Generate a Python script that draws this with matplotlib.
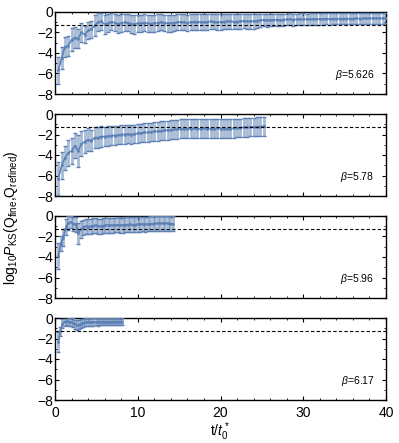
import matplotlib
matplotlib.use("Agg")
import matplotlib.pyplot as plt
from matplotlib.ticker import MultipleLocator
import numpy as np

plt.rcParams['font.family'] = ['Liberation Sans', 'DejaVu Sans']
plt.rcParams['mathtext.fontset'] = 'custom'
plt.rcParams['mathtext.rm'] = 'Liberation Sans'
plt.rcParams['mathtext.it'] = 'Liberation Sans:italic'

betas = ["5.626", "5.78", "5.96", "6.17"]

x1 = [0.4, 0.8, 1.2, 1.6, 2.0, 2.4, 2.8, 3.2, 3.6, 4.0, 4.4, 4.8, 5.2, 5.6, 6.0, 6.4, 6.8, 7.2, 7.6, 8.0,
      8.4, 8.8, 9.2, 9.6, 10.0, 10.4, 10.8, 11.2, 11.6, 12.0, 12.4, 12.8, 13.2, 13.6, 14.0, 14.4, 14.8, 15.2, 15.6, 16.0,
      16.4, 16.8, 17.2, 17.6, 18.0, 18.4, 18.8, 19.2, 19.6, 20.0, 20.4, 20.8, 21.2, 21.6, 22.0, 22.4, 22.8, 23.2, 23.6, 24.0,
      24.4, 24.8, 25.2, 25.6, 26.0, 26.4, 26.8, 27.2, 27.6, 28.0, 28.4, 28.8, 29.2, 29.6, 30.0, 30.4, 30.8, 31.2, 31.6, 32.0,
      32.4, 32.8, 33.2, 33.6, 34.0, 34.4, 34.8, 35.2, 35.6, 36.0, 36.4, 36.8, 37.2, 37.6, 38.0, 38.4, 38.8, 39.2, 39.6, 40.0]
y1 = [-5.7, -4.5, -3.4, -3.3, -2.7, -2.5, -2.6, -2.0, -2.2, -1.8,
      -1.7, -1.3, -1.0, -0.9, -1.2, -1.1, -0.95, -1.05, -1.15, -1.1,
      -1.0, -1.05, -1.15, -1.2, -1.1, -1.1, -1.05, -1.1, -1.15, -1.1,
      -1.05, -1.0, -1.05, -1.1, -1.1, -1.05, -1.0, -0.98, -1.0, -1.05,
      -1.0, -0.95, -0.95, -1.0, -1.0, -0.95, -0.92, -0.95, -1.0, -0.98,
      -0.95, -0.9, -0.92, -0.95, -0.93, -0.9, -0.88, -0.9, -0.92, -0.9,
      -0.85, -0.8, -0.78, -0.8, -0.78, -0.75, -0.76, -0.78, -0.75, -0.73,
      -0.72, -0.74, -0.72, -0.7, -0.7, -0.72, -0.7, -0.68, -0.7, -0.68,
      -0.67, -0.66, -0.68, -0.66, -0.65, -0.66, -0.64, -0.65, -0.66, -0.64,
      -0.63, -0.64, -0.63, -0.62, -0.63, -0.62, -0.61, -0.62, -0.62, -0.6]
e1 = [1.3, 1.1, 1.0, 1.0, 1.1, 1.0, 0.9, 0.9, 0.8, 0.8,
      0.8, 1.0, 0.9, 0.85, 0.9, 0.9, 0.85, 0.85, 0.9, 0.9,
      0.85, 0.85, 0.9, 0.9, 0.85, 0.85, 0.85, 0.85, 0.85, 0.85,
      0.85, 0.8, 0.8, 0.85, 0.85, 0.8, 0.8, 0.8, 0.8, 0.8,
      0.8, 0.78, 0.78, 0.8, 0.8, 0.78, 0.75, 0.75, 0.78, 0.78,
      0.75, 0.72, 0.75, 0.75, 0.75, 0.72, 0.72, 0.72, 0.74, 0.72,
      0.68, 0.62, 0.6, 0.62, 0.6, 0.6, 0.6, 0.6, 0.58, 0.58,
      0.58, 0.58, 0.57, 0.56, 0.56, 0.57, 0.56, 0.55, 0.56, 0.55,
      0.55, 0.54, 0.55, 0.54, 0.54, 0.54, 0.53, 0.54, 0.54, 0.53,
      0.53, 0.53, 0.53, 0.52, 0.53, 0.52, 0.52, 0.52, 0.52, 0.51]

x2 = [0.4, 0.8, 1.2, 1.6, 2.0, 2.4, 2.8, 3.2, 3.6, 4.0, 4.4, 4.8, 5.2, 5.6, 6.0, 6.4, 6.8, 7.2, 7.6, 8.0,
      8.4, 8.8, 9.2, 9.6, 10.0, 10.4, 10.8, 11.2, 11.6, 12.0, 12.4, 12.8, 13.2, 13.6, 14.0, 14.4, 14.8, 15.2, 15.6, 16.0,
      16.4, 16.8, 17.2, 17.6, 18.0, 18.4, 18.8, 19.2, 19.6, 20.0, 20.4, 20.8, 21.2, 21.6, 22.0, 22.4, 22.8, 23.2, 23.6, 24.0,
      24.4, 24.8, 25.2]
y2 = [-6.3, -5.0, -4.3, -3.8, -3.6, -3.1, -3.6, -2.9, -2.7, -2.5,
      -2.6, -2.3, -2.3, -2.2, -2.2, -2.15, -2.1, -2.1, -2.05, -2.0,
      -2.0, -1.95, -2.0, -1.95, -1.9, -1.85, -1.8, -1.8, -1.75, -1.7,
      -1.7, -1.65, -1.6, -1.6, -1.55, -1.5, -1.5, -1.45, -1.45, -1.45,
      -1.45, -1.4, -1.45, -1.45, -1.4, -1.42, -1.45, -1.45, -1.4, -1.42,
      -1.45, -1.45, -1.42, -1.4, -1.38, -1.35, -1.3, -1.3, -1.28, -1.25,
      -1.25, -1.22, -1.2]
e2 = [1.6, 1.3, 1.2, 1.3, 1.3, 1.2, 1.6, 1.2, 1.1, 1.1,
      1.0, 1.0, 1.0, 1.0, 0.95, 0.95, 0.95, 0.95, 0.92, 0.9,
      0.9, 0.9, 0.9, 0.9, 0.9, 0.9, 0.9, 0.9, 0.9, 0.92,
      0.92, 0.92, 0.92, 0.92, 0.92, 0.92, 0.92, 0.92, 0.92, 0.92,
      0.92, 0.92, 0.92, 0.92, 0.92, 0.92, 0.92, 0.92, 0.92, 0.92,
      0.92, 0.92, 0.92, 0.9, 0.9, 0.9, 0.9, 0.9, 0.9, 0.9,
      0.92, 0.92, 0.92]

x3 = [0.4, 0.7, 1.0, 1.3, 1.6, 1.9, 2.2, 2.5, 2.8, 3.1, 3.4, 3.7, 4.0, 4.3, 4.6, 4.9, 5.2, 5.5, 5.8, 6.1,
      6.4, 6.7, 7.0, 7.3, 7.6, 7.9, 8.2, 8.5, 8.8, 9.1, 9.4, 9.7, 10.0, 10.3, 10.6, 10.9, 11.2, 11.5, 11.8, 12.1,
      12.4, 12.7, 13.0, 13.3, 13.6, 13.9, 14.2]
y3 = [-3.9, -2.7, -2.1, -1.1, -0.7, -0.6, -0.75, -0.8, -1.7, -1.3,
      -1.1, -1.0, -1.05, -1.0, -0.95, -0.9, -1.0, -1.0, -0.95, -0.9,
      -0.9, -0.92, -0.9, -0.88, -0.85, -0.88, -0.9, -0.85, -0.85, -0.82,
      -0.85, -0.85, -0.8, -0.8, -0.78, -0.8, -0.78, -0.75, -0.75, -0.72,
      -0.72, -0.7, -0.7, -0.7, -0.72, -0.75, -0.75]
e3 = [1.3, 0.75, 0.8, 0.8, 0.7, 0.6, 0.7, 0.75, 1.0, 0.8,
      0.75, 0.75, 0.75, 0.75, 0.75, 0.75, 0.75, 0.75, 0.75, 0.72,
      0.72, 0.74, 0.73, 0.72, 0.72, 0.73, 0.74, 0.72, 0.72, 0.72,
      0.73, 0.73, 0.72, 0.72, 0.72, 0.73, 0.72, 0.72, 0.72, 0.72,
      0.72, 0.72, 0.72, 0.72, 0.73, 0.74, 0.74]

x4 = [0.4, 0.65, 0.9, 1.15, 1.4, 1.65, 1.9, 2.15, 2.4, 2.65, 2.9, 3.15, 3.4, 3.65, 3.9, 4.15,
      4.4, 4.65, 4.9, 5.15, 5.4, 5.65, 5.9, 6.15, 6.4, 6.65, 6.9, 7.15, 7.4, 7.65, 7.9, 8.15]
y4 = [-2.35, -1.3, -0.55, -0.35, -0.3, -0.4, -0.35, -0.45, -0.6, -0.7, -0.65, -0.55, -0.45, -0.4, -0.42, -0.4,
      -0.38, -0.4, -0.38, -0.4, -0.38, -0.36, -0.38, -0.36, -0.38, -0.36, -0.36, -0.38, -0.36, -0.36, -0.38, -0.36]
e4 = [0.95, 0.45, 0.45, 0.4, 0.38, 0.4, 0.4, 0.42, 0.45, 0.5, 0.45, 0.42, 0.4, 0.38, 0.38, 0.36,
      0.36, 0.36, 0.35, 0.35, 0.35, 0.34, 0.34, 0.34, 0.34, 0.34, 0.33, 0.33, 0.33, 0.33, 0.33, 0.33]

threshold = -1.30103  # log10(0.05)

series = [(x1, y1, e1), (x2, y2, e2), (x3, y3, e3), (x4, y4, e4)]

W, H = 399, 443
fig = plt.figure(figsize=(W / 100, H / 100), dpi=100)
col = '#5E81B5'
tops = [12, 114, 216, 318]
ph = 82
left, right = 55, 386

for i, ((xs, ys, es), b) in enumerate(zip(series, betas)):
    t = tops[i]
    ax = fig.add_axes([left / W, 1 - (t + ph) / H, (right - left) / W, ph / H])
    xa, ya, ea = np.array(xs), np.array(ys), np.array(es)
    ax.errorbar(xa, ya, yerr=ea, fmt='none',
                ecolor=(0.37, 0.51, 0.71, 0.55), elinewidth=2.0, capsize=0, zorder=2)
    ax.plot(xa, ya + ea, ls='none', marker='_', ms=3.5, mew=1.0, color=col, zorder=3)
    ax.plot(xa, ya - ea, ls='none', marker='_', ms=3.5, mew=1.0, color=col, zorder=3)
    ax.plot(xa, ya, ls='none', marker='o', ms=2.0, mew=0, color=col, zorder=3)
    ax.plot(xa, ya, color=col, lw=1.2, zorder=3)
    ax.axhline(threshold, color='black', ls=(0, (3, 2)), lw=0.8, zorder=4)
    ax.set_xlim(0, 40)
    ax.set_ylim(-8, 0)
    ax.xaxis.set_major_locator(MultipleLocator(10))
    ax.xaxis.set_minor_locator(MultipleLocator(2))
    ax.yaxis.set_major_locator(MultipleLocator(2))
    ax.yaxis.set_minor_locator(MultipleLocator(1))
    ax.tick_params(which='both', direction='in', top=True, right=True, labelsize=10, pad=1.5)
    ax.tick_params(axis='x', pad=4)
    ax.tick_params(which='major', length=3, width=0.8)
    ax.tick_params(which='minor', length=1.5, width=0.6)
    for s in ax.spines.values():
        s.set_linewidth(1.0)
    ax.set_yticks([0, -2, -4, -6, -8])
    ax.set_yticklabels(['0', '\u22122', '\u22124', '\u22126', '\u22128'])
    if i < 3:
        ax.tick_params(labelbottom=False)
    else:
        ax.set_xticks([0, 10, 20, 30, 40])
    ax.text(38.6, -6.1, r'$\beta$=' + b, ha='right', va='center', fontsize=7.5)

fig.text(11 / W, 1 - 218 / H,
         r'log$_{10}$$P_{\rm KS}$(Q$_{\rm fine}$,Q$_{\rm refined}$)',
         rotation=90, ha='center', va='center', fontsize=10)
fig.text(220 / W, 1 - 432 / H, r't/$t_0^*$', ha='center', va='center', fontsize=10)

fig.savefig('out.png', dpi=100)
